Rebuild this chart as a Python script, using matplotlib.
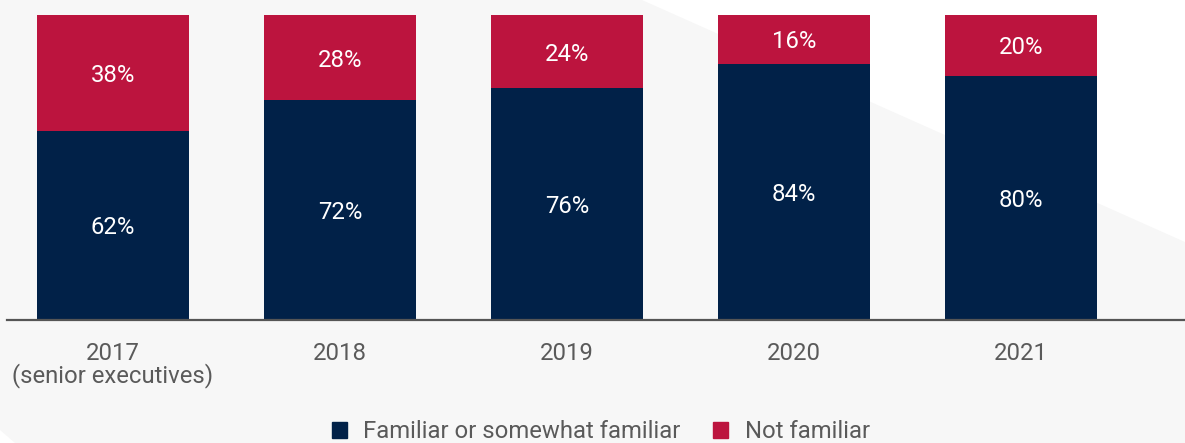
import matplotlib.pyplot as plt
import numpy as np
from matplotlib.patches import Polygon, Patch

plt.rcParams['font.family'] = ['Roboto', 'DejaVu Sans']

# 数据
years = ['2017\n(senior executives)', '2018', '2019', '2020', '2021']
familiar = [62, 72, 76, 84, 80]
not_familiar = [38, 28, 24, 16, 20]

NAVY = '#012148'
RED = '#BC143E'
GREY_TXT = '#5a5a5a'
BG = '#f7f7f7'
FS = 17.2

fig = plt.figure(figsize=(11.85, 4.43), dpi=100)
fig.patch.set_facecolor(BG)

# 背景层：灰底上的白色斜块
bg = fig.add_axes([0, 0, 1, 1], zorder=-1)
bg.set_xlim(0, 1185)
bg.set_ylim(443, 0)
bg.axis('off')
bg.add_patch(Polygon([(642, 0), (1185, 0), (1185, 242)], closed=True,
                     facecolor='white', edgecolor='none'))
bg.add_patch(Polygon([(0, 430), (0, 443), (15, 443)], closed=True,
                     facecolor='white', edgecolor='none'))

ax = fig.add_axes([7 / 1185, 123 / 443, 1178 / 1185, 305 / 443])
ax.set_facecolor('none')

x = np.arange(len(years))
w = 0.67
ax.bar(x, familiar, w, color=NAVY, label='Familiar or somewhat familiar')
ax.bar(x, not_familiar, w, bottom=familiar, color=RED, label='Not familiar')

for xi, f, n in zip(x, familiar, not_familiar):
    ax.text(xi, f / 2, f'{f}%', ha='center', va='center_baseline', color='white', fontsize=FS)
    ax.text(xi, f + n / 2, f'{n}%', ha='center', va='center_baseline', color='white', fontsize=FS)

ax.set_xlim(-0.467, 4.722)
ax.set_ylim(0, 100)
ax.set_yticks([])
ax.set_xticks(x)
ax.set_xticklabels(years, fontsize=FS, color=GREY_TXT)
for lab in ax.get_xticklabels():
    lab.set_linespacing(0.95)
ax.tick_params(axis='x', length=0, pad=15.5)

for s in ['top', 'right', 'left']:
    ax.spines[s].set_visible(False)
ax.spines['bottom'].set_color('#555555')
ax.spines['bottom'].set_linewidth(1.6)

handles = [Patch(color=NAVY), Patch(color=RED)]
fig.legend(handles, ['Familiar or somewhat familiar', 'Not familiar'],
           loc='center', bbox_to_anchor=(0.507, 0.025), ncol=2, frameon=False,
           fontsize=FS, labelcolor=GREY_TXT, handlelength=0.62, handleheight=0.62,
           handletextpad=0.7, columnspacing=1.35)

plt.savefig('out.png', dpi=100, facecolor=fig.get_facecolor())
